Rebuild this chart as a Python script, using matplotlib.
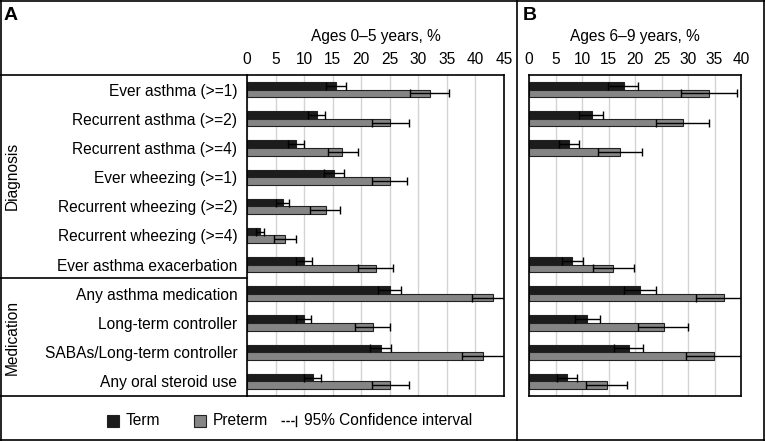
import numpy as np
from matplotlib import pyplot as plt
from matplotlib.lines import Line2D
from matplotlib.patches import Rectangle

plt.rcParams['font.family'] = ['Liberation Sans', 'DejaVu Sans']

categories = ['Ever asthma (>=1)', 'Recurrent asthma (>=2)', 'Recurrent asthma (>=4)',
              'Ever wheezing (>=1)', 'Recurrent wheezing (>=2)', 'Recurrent wheezing (>=4)',
              'Ever asthma exacerbation', 'Any asthma medication', 'Long-term controller',
              'SABAs/Long-term controller', 'Any oral steroid use']

# ages 0-5 (panel A): estimate, lower and upper 95% CI
term_a = [15.6, 12.3, 8.5, 15.3, 6.3, 2.3, 9.9, 25.0, 9.9, 23.4, 11.5]
term_a_lo = [13.9, 10.7, 7.2, 13.5, 5.1, 1.5, 8.6, 23.0, 8.5, 21.5, 10.0]
term_a_hi = [17.3, 13.7, 9.9, 17.0, 7.4, 2.9, 11.3, 27.0, 11.2, 25.3, 13.0]
pre_a = [32.1, 25.0, 16.7, 25.0, 13.8, 6.7, 22.6, 43.1, 22.0, 41.4, 25.0]
pre_a_lo = [28.5, 21.9, 14.2, 21.8, 11.1, 4.7, 19.4, 39.4, 18.9, 37.7, 21.9]
pre_a_hi = [35.4, 28.3, 19.5, 28.1, 16.2, 8.5, 25.6, 47.0, 25.0, 45.3, 28.3]

# ages 6-9 (panel B), wheezing rows not reported
nan = np.nan
term_b = [17.9, 11.8, 7.6, nan, nan, nan, 8.2, 21.0, 11.0, 18.9, 7.1]
term_b_lo = [14.9, 9.5, 5.6, nan, nan, nan, 6.3, 18.0, 8.7, 16.1, 5.3]
term_b_hi = [20.5, 14.0, 9.4, nan, nan, nan, 10.2, 23.9, 13.4, 21.6, 9.1]
pre_b = [34.0, 29.0, 17.1, nan, nan, nan, 15.8, 36.8, 25.4, 34.9, 14.7]
pre_b_lo = [28.7, 24.0, 13.0, nan, nan, nan, 12.0, 31.6, 20.5, 29.7, 10.8]
pre_b_hi = [39.2, 34.0, 21.3, nan, nan, nan, 19.8, 42.0, 30.0, 40.5, 18.5]

TERM_C = '#1c1c1c'
PRE_C = '#858585'
FS = 11.2
W, H = 765, 441

fig = plt.figure(figsize=(W / 100, H / 100), dpi=100)


def fx(x):
    return x / W


def fy(y):
    return 1 - y / H


def hline(y, x0, x1):
    fig.add_artist(Line2D([fx(x0), fx(x1)], [fy(y), fy(y)], color='k', lw=1.2,
                          transform=fig.transFigure))


def vline(x, y0, y1):
    fig.add_artist(Line2D([fx(x), fx(x)], [fy(y0), fy(y1)], color='k', lw=1.2,
                          transform=fig.transFigure))


def panel(rect, est_t, lo_t, hi_t, est_p, lo_p, hi_p, xmax, title):
    x0, y0, x1, y1 = rect
    ax = fig.add_axes([fx(x0), fy(y1), fx(x1 - x0), (y1 - y0) / H])
    pos = np.arange(len(categories))
    h = 0.26
    for est, lo, hi, off, col in [(est_t, lo_t, hi_t, -h / 2, TERM_C),
                                  (est_p, lo_p, hi_p, h / 2, PRE_C)]:
        est, lo, hi = np.array(est), np.array(lo), np.array(hi)
        ok = ~np.isnan(est)
        ax.barh(pos[ok] + off, est[ok], height=h, color=col, edgecolor='#222222',
                linewidth=0.8, zorder=2)
        ax.errorbar(est[ok], pos[ok] + off, xerr=[est[ok] - lo[ok], hi[ok] - est[ok]],
                    fmt='none', ecolor='k', elinewidth=1, capsize=3, capthick=1, zorder=3)
    ax.set_xlim(0, xmax)
    ax.set_ylim(len(categories) - 0.5, -0.5)
    ax.set_xticks(np.arange(0, xmax + 1, 5))
    ax.xaxis.tick_top()
    ax.tick_params(axis='x', length=0, pad=6, labelsize=FS)
    ax.grid(axis='x', color='#d4d4d4', lw=1, zorder=0)
    ax.set_axisbelow(True)
    for s in ax.spines.values():
        s.set_linewidth(1.2)
    ax.set_yticks([])
    fig.text(fx((x0 + x1) / 2), fy(36), title, ha='center', va='center', fontsize=FS)
    return ax


axA = panel((247, 75, 504, 396), term_a, term_a_lo, term_a_hi, pre_a, pre_a_lo, pre_a_hi,
            45, 'Ages 0\u20135 years, %')
axB = panel((529, 75, 741, 396), term_b, term_b_lo, term_b_hi, pre_b, pre_b_lo, pre_b_hi,
            40, 'Ages 6\u20139 years, %')

# category labels
axA.set_yticks(np.arange(len(categories)))
axA.set_yticklabels(categories, fontsize=FS)
axA.tick_params(axis='y', length=0, pad=7)

# frames and table lines
vline(0.6, 0, H)
vline(W - 0.6, 0, H)
hline(0.6, 0, W)
hline(H - 0.6, 0, W)
vline(517, 0, H)
hline(75, 0, 247)
hline(396, 0, 247)
hline(277.7, 0, 247)

fig.text(fx(12), fy(176), 'Diagnosis', rotation=90, ha='center', va='center', fontsize=FS)
fig.text(fx(12), fy(337), 'Medication', rotation=90, ha='center', va='center', fontsize=FS)
fig.text(fx(4), fy(16), 'A', fontsize=14, fontweight='bold', ha='left', va='center')
fig.text(fx(523), fy(15), 'B', fontsize=14, fontweight='bold', ha='left', va='center')

# legend
ly = 420.5
for x, col, lab in [(107, TERM_C, 'Term'), (194, PRE_C, 'Preterm')]:
    fig.add_artist(Rectangle((fx(x), fy(ly + 6)), fx(12), 12 / H, facecolor=col,
                             edgecolor='#222222', lw=0.8, transform=fig.transFigure))
    fig.text(fx(x + 19), fy(ly), lab, ha='left', va='center', fontsize=FS)
fig.add_artist(Line2D([fx(281), fx(295)], [fy(ly), fy(ly)], color='k', lw=1,
                      linestyle=(0, (2.5, 1)), transform=fig.transFigure))
fig.add_artist(Line2D([fx(296), fx(296)], [fy(ly - 5), fy(ly + 5)], color='k', lw=1,
                      transform=fig.transFigure))
fig.text(fx(304), fy(ly), '95% Confidence interval', ha='left', va='center', fontsize=FS)

plt.savefig('out.png', dpi=100)
plt.close()
